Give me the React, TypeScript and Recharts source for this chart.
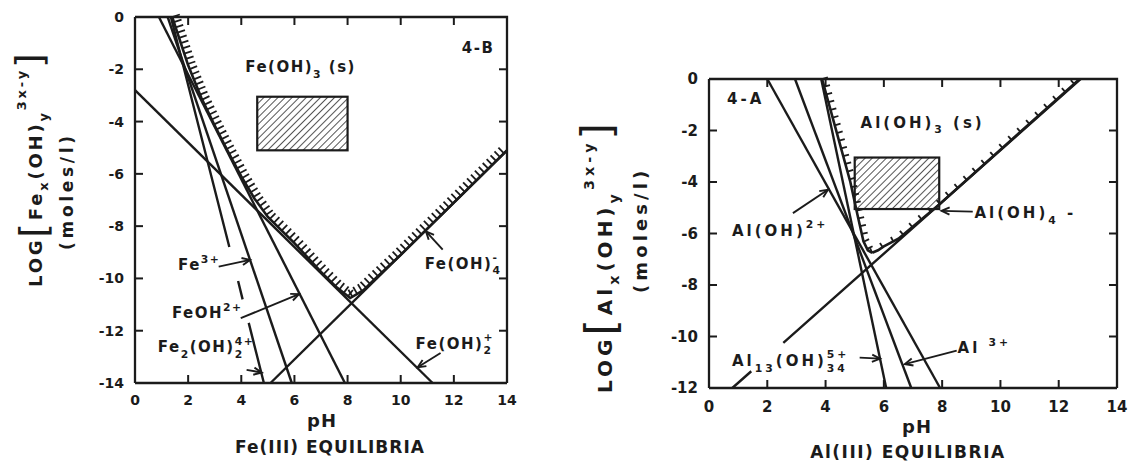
import React from 'react';
import { LineChart, Line, XAxis, YAxis, ReferenceArea, ReferenceLine, ReferenceDot } from 'recharts';

const FONT = '"DejaVu Sans", Verdana, sans-serif';
const INK = '#1b1b1b';
const TICK = 8;

type Pt = { ph: number; v: number | null };
type Part = { t: string; k?: 'sub' | 'sup'; stack?: boolean };
type Note = { ph: number; v: number; parts: Part[] };
type Arrow = { from: [number, number]; to: [number, number] };

// shared pH axis
const phTicks = [0, 2, 4, 6, 8, 10, 12, 14];

// ---------- Fe(III) ----------
const feLogTicks = [0, -2, -4, -6, -8, -10, -12, -14];

const feFe3: Pt[] = [{ ph: 1.23, v: 0 }, { ph: 5.9, v: -14 }];
const feFeOH: Pt[] = [{ ph: 0.9, v: 0 }, { ph: 7.9, v: -14 }];
// broken where the label arrows cross it
const feFe2OH2: Pt[] = [
  { ph: 1.35, v: 0 }, { ph: 3.55, v: -8.8 }, { ph: 3.7, v: null },
  { ph: 3.88, v: -10.1 }, { ph: 4.05, v: -10.8 }, { ph: 4.16, v: null },
  { ph: 4.28, v: -11.7 }, { ph: 4.85, v: -14 },
];
const feFeOH2: Pt[] = [{ ph: 0, v: -2.8 }, { ph: 11.2, v: -14 }];
const feFeOH4: Pt[] = [{ ph: 5.1, v: -14 }, { ph: 14, v: -5.1 }];
const feSolubility: Pt[] = [
  { ph: 1.4, v: 0 }, { ph: 2.0, v: -1.85 }, { ph: 2.5, v: -3.1 }, { ph: 3.0, v: -4.15 },
  { ph: 3.5, v: -5.15 }, { ph: 4.0, v: -6.1 }, { ph: 4.5, v: -6.95 }, { ph: 5.0, v: -7.65 },
  { ph: 6.0, v: -8.65 }, { ph: 7.0, v: -9.75 }, { ph: 7.6, v: -10.35 }, { ph: 8.1, v: -10.75 },
  { ph: 8.6, v: -10.45 }, { ph: 9.0, v: -10.05 }, { ph: 10.0, v: -9.1 }, { ph: 12.0, v: -7.1 },
  { ph: 14.0, v: -5.1 },
];
const feBox = { ph: [4.6, 8.0], v: [-5.1, -3.05] };

const feNotes: Note[] = [
  { ph: 4.15, v: -1.91, parts: [{ t: 'Fe(OH)' }, { t: '3', k: 'sub' }, { t: ' (s)' }] },
  { ph: 12.3, v: -1.15, parts: [{ t: '4-B' }] },
  { ph: 1.62, v: -9.48, parts: [{ t: 'Fe' }, { t: '3+', k: 'sup' }] },
  { ph: 1.39, v: -11.32, parts: [{ t: 'FeOH' }, { t: '2+', k: 'sup' }] },
  {
    ph: 0.86, v: -12.62,
    parts: [{ t: 'Fe' }, { t: '2', k: 'sub' }, { t: '(OH)' }, { t: '2', k: 'sub' }, { t: '4+', k: 'sup', stack: true }],
  },
  { ph: 10.9, v: -9.41, parts: [{ t: 'Fe(OH)' }, { t: '4', k: 'sub' }, { t: '-', k: 'sup', stack: true }] },
  { ph: 10.56, v: -12.47, parts: [{ t: 'Fe(OH)' }, { t: '2', k: 'sub' }, { t: '+', k: 'sup', stack: true }] },
];
const feArrows: Arrow[] = [
  { from: [3.15, -9.55], to: [4.33, -9.29] },
  { from: [3.98, -11.52], to: [6.17, -10.6] },
  { from: [4.2, -13.5], to: [4.77, -13.6] },
  { from: [11.58, -8.9], to: [10.95, -8.2] },
  { from: [11.5, -12.85], to: [10.64, -13.4] },
];

// ---------- Al(III) ----------
const alLogTicks = [0, -2, -4, -6, -8, -10, -12];

const alAl3: Pt[] = [{ ph: 2.95, v: 0 }, { ph: 6.94, v: -12 }];
const alAlOH: Pt[] = [{ ph: 2.0, v: 0 }, { ph: 7.93, v: -12 }];
const alAl13: Pt[] = [{ ph: 3.85, v: 0 }, { ph: 6.08, v: -12 }];
const alAlOH4: Pt[] = [
  { ph: 0.8, v: -12 }, { ph: 1.45, v: -11.35 }, { ph: 2.0, v: null },
  { ph: 2.55, v: -10.25 }, { ph: 12.75, v: 0 },
];
const alSolubilityAcid: Pt[] = [
  { ph: 3.88, v: 0 }, { ph: 4.4, v: -2.15 }, { ph: 4.85, v: -4.0 }, { ph: 5.1, v: -5.3 },
  { ph: 5.3, v: -6.3 }, { ph: 5.45, v: -6.65 }, { ph: 5.6, v: -6.75 },
];
const alSolubilityBase: Pt[] = [
  { ph: 5.6, v: -6.75 }, { ph: 5.8, v: -6.65 }, { ph: 6.0, v: -6.5 }, { ph: 6.5, v: -6.2 },
  { ph: 7.9, v: -4.87 }, { ph: 12.72, v: 0 },
];
const alBox = { ph: [5.0, 7.9], v: [-5.05, -3.05] };

const alNotes: Note[] = [
  { ph: 0.62, v: -0.74, parts: [{ t: '4-A' }] },
  { ph: 5.2, v: -1.67, parts: [{ t: 'Al(OH)' }, { t: '3', k: 'sub' }, { t: ' (s)' }] },
  { ph: 0.79, v: -5.88, parts: [{ t: 'Al(OH)' }, { t: '2+', k: 'sup' }] },
  { ph: 9.11, v: -5.18, parts: [{ t: 'Al(OH)' }, { t: '4', k: 'sub' }, { t: ' -' }] },
  {
    ph: 0.79, v: -10.93,
    parts: [{ t: 'Al' }, { t: '13', k: 'sub' }, { t: '(OH)' }, { t: '34', k: 'sub' }, { t: '5+', k: 'sup', stack: true }],
  },
  { ph: 8.53, v: -10.43, parts: [{ t: 'Al ' }, { t: '3+', k: 'sup' }] },
];
const alArrows: Arrow[] = [
  { from: [2.88, -5.21], to: [4.08, -4.3] },
  { from: [9.05, -5.15], to: [7.98, -5.12] },
  { from: [5.17, -10.82], to: [5.87, -10.86] },
  { from: [8.5, -10.55], to: [6.72, -11.07] },
];

// ---------- drawing helpers ----------
function RichText({ x, y, parts, size, spacing }: { x: number; y: number; parts: Part[]; size: number; spacing: number }) {
  const small = size * 0.72;
  let cur = 0;
  return (
    <text x={x} y={y} fontFamily={FONT} fontWeight={700} fontSize={size} fill={INK} letterSpacing={spacing}>
      {parts.map((p, i) => {
        const off = p.k === 'sub' ? size * 0.38 : p.k === 'sup' ? -size * 0.5 : 0;
        const dy = off - cur;
        cur = off;
        const prev = parts[i - 1];
        const back = p.stack && prev ? prev.t.length * (small * 0.7 + spacing) : 0;
        return (
          <tspan key={i} dy={dy} dx={back ? -back : undefined} fontSize={p.k ? small : size}>
            {p.t}
          </tspan>
        );
      })}
    </text>
  );
}

const noteShape = (parts: Part[], spacing: number) => (p: any) => (
  <RichText x={p.cx} y={p.cy + 5.5} parts={parts} size={15} spacing={spacing} />
);

const arrowShape = (p: any) => {
  const { x1, y1, x2, y2 } = p;
  const a = Math.atan2(y2 - y1, x2 - x1);
  const h = 8;
  const w = 3.6;
  const bx = x2 - h * Math.cos(a);
  const by = y2 - h * Math.sin(a);
  const lx = bx + w * Math.sin(a);
  const ly = by - w * Math.cos(a);
  const rx = bx - w * Math.sin(a);
  const ry = by + w * Math.cos(a);
  return (
    <g>
      <line x1={x1} y1={y1} x2={x2} y2={y2} stroke={INK} strokeWidth={1.9} />
      <path d={`M${lx},${ly} L${x2},${y2} L${rx},${ry}`} fill="none" stroke={INK} strokeWidth={1.9} />
    </g>
  );
};

const boxShape = (id: string) => (p: any) => (
  <g>
    <defs>
      <pattern id={id} patternUnits="userSpaceOnUse" width={5} height={5} patternTransform="rotate(45)">
        <line x1={0} y1={0} x2={0} y2={5} stroke={INK} strokeWidth={1.5} />
      </pattern>
    </defs>
    <rect x={p.x} y={p.y} width={p.width} height={p.height} fill={`url(#${id})`} stroke={INK} strokeWidth={2.2} />
  </g>
);

// hatch marks on the solid side of a solubility boundary, laid along the plotted segments
function hatchDot(gap: number, len: number) {
  return (p: any) => {
    const pts = p.points as { x: number; y: number }[] | undefined;
    const i = p.index as number;
    if (!pts || i >= pts.length - 1) return <g key={`h${i}`} />;
    let start = 0;
    for (let k = 0; k < i; k++) start += Math.hypot(pts[k + 1].x - pts[k].x, pts[k + 1].y - pts[k].y);
    const a = pts[i];
    const b = pts[i + 1];
    const L = Math.hypot(b.x - a.x, b.y - a.y);
    const ux = (b.x - a.x) / L;
    const uy = (b.y - a.y) / L;
    let nx = uy;
    let ny = -ux;
    if (ny > 0) {
      nx = -nx;
      ny = -ny;
    }
    const marks: React.ReactElement[] = [];
    for (let s = Math.ceil(start / gap) * gap - start; s < L; s += gap) {
      const mx = a.x + ux * s;
      const my = a.y + uy * s;
      marks.push(
        <line key={s} x1={mx} y1={my} x2={mx + nx * len} y2={my + ny * len} stroke={INK} strokeWidth={1.8} />
      );
    }
    return <g key={`h${i}`}>{marks}</g>;
  };
}

const tickText = (size: number) => ({ fontFamily: FONT, fontWeight: 700, fontSize: size, fill: INK });

const bottomTick = (gap: number, size: number) => (p: any) => {
  const val = p.payload.value;
  return (
    <g>
      {val > 0 && val < 14 && <line x1={p.x} y1={p.y} x2={p.x} y2={p.y - TICK} stroke={INK} strokeWidth={2} />}
      <text x={p.x} y={p.y + gap} textAnchor="middle" {...tickText(size)}>{val}</text>
    </g>
  );
};
const leftTick = (lo: number, size: number) => (p: any) => {
  const val = p.payload.value;
  return (
    <g>
      {val < 0 && val > lo && <line x1={p.x} y1={p.y} x2={p.x + TICK} y2={p.y} stroke={INK} strokeWidth={2} />}
      <text x={p.x - 11} y={p.y + 5} textAnchor="end" {...tickText(size)}>{val}</text>
    </g>
  );
};

const axisLine = { stroke: INK, strokeWidth: 2.3 };

type PanelProps = {
  width: number;
  height: number;
  margin: { top: number; right: number; bottom: number; left: number };
  yAxisWidth: number;
  xAxisHeight: number;
  labelGap: number;
  tickSize: number;
  noteSpacing: number;
  yTicks: number[];
  species: Pt[][];
  boundaries: { data: Pt[]; gap: number; len: number }[];
  box: { ph: number[]; v: number[] };
  boxId: string;
  notes: Note[];
  arrows: Arrow[];
};

// top and right edges of the plot frame with their inward ticks, laid over the chart
function FrameEdges({ props, lo }: { props: PanelProps; lo: number }) {
  const left = props.margin.left + props.yAxisWidth;
  const top = props.margin.top;
  const right = props.width - props.margin.right;
  const bottom = props.height - props.margin.bottom - props.xAxisHeight;
  const px = (t: number) => left + (t / 14) * (right - left);
  const py = (t: number) => top + (t / lo) * (bottom - top);
  return (
    <svg
      width={props.width} height={props.height}
      style={{ position: 'absolute', left: 0, top: 0, pointerEvents: 'none' }}
    >
      <path d={`M${left},${top} H${right} V${bottom}`} fill="none" stroke={INK} strokeWidth={2.3} />
      {phTicks.filter((t) => t > 0 && t < 14).map((t) => (
        <line key={`x${t}`} x1={px(t)} y1={top} x2={px(t)} y2={top + TICK} stroke={INK} strokeWidth={2} />
      ))}
      {props.yTicks.filter((t) => t < 0 && t > lo).map((t) => (
        <line key={`y${t}`} x1={right} y1={py(t)} x2={right - TICK} y2={py(t)} stroke={INK} strokeWidth={2} />
      ))}
    </svg>
  );
}

function Panel(props: PanelProps) {
  const lo = props.yTicks[props.yTicks.length - 1];
  return (
    <div style={{ position: 'relative', width: props.width, height: props.height }}>
      <LineChart width={props.width} height={props.height} margin={props.margin}>
        <XAxis
          dataKey="ph" type="number" domain={[0, 14]} ticks={phTicks} interval={0}
          height={props.xAxisHeight} tickSize={0} tickMargin={0} tickLine={false}
          axisLine={axisLine} tick={bottomTick(props.labelGap, props.tickSize)}
        />
        <YAxis
          type="number" domain={[lo, 0]} ticks={props.yTicks} interval={0} width={props.yAxisWidth}
          tickSize={0} tickMargin={0} tickLine={false} axisLine={axisLine} tick={leftTick(lo, props.tickSize)}
        />
        <ReferenceArea
          x1={props.box.ph[0]} x2={props.box.ph[1]} y1={props.box.v[0]} y2={props.box.v[1]}
          ifOverflow="visible" shape={boxShape(props.boxId)}
        />
        {props.species.map((d, i) => (
          <Line
            key={`s${i}`} data={d} dataKey="v" type="linear" stroke={INK} strokeWidth={2.4}
            dot={false} activeDot={false} isAnimationActive={false}
          />
        ))}
        {props.boundaries.map((b, i) => (
          <Line
            key={`b${i}`} data={b.data} dataKey="v" type="linear" stroke={INK} strokeWidth={2.6}
            dot={hatchDot(b.gap, b.len)} activeDot={false} isAnimationActive={false}
          />
        ))}
        {props.arrows.map((a, i) => (
          <ReferenceLine
            key={`a${i}`} ifOverflow="visible"
            segment={[{ x: a.from[0], y: a.from[1] }, { x: a.to[0], y: a.to[1] }]}
            shape={arrowShape}
          />
        ))}
        {props.notes.map((n, i) => (
          <ReferenceDot
            key={`n${i}`} x={n.ph} y={n.v} r={0} ifOverflow="visible"
            shape={noteShape(n.parts, props.noteSpacing)}
          />
        ))}
      </LineChart>
      <FrameEdges props={props} lo={lo} />
    </div>
  );
}

function SideTitle(
  { x, y, x2, y2, size, spacing, size2, spacing2, metal }:
  { x: number; y: number; x2: number; y2: number; size: number; spacing: number; size2: number; spacing2: number; metal: string }
) {
  const s = size * 0.72;
  return (
    <g fontFamily={FONT} fontWeight={700} fill={INK}>
      <text transform={`translate(${x},${y}) rotate(-90)`} fontSize={size} letterSpacing={spacing}>
        LOG
        <tspan fontSize={size * 2.1} fontWeight={400} dy={size * 0.2}>[</tspan>
        <tspan dy={-size * 0.2}>{metal}</tspan>
        <tspan fontSize={s} dy={size * 0.35}>x</tspan>
        <tspan dy={-size * 0.35}>(OH)</tspan>
        <tspan fontSize={s} dy={size * 0.35}>y</tspan>
        <tspan fontSize={s} dy={-size * 1.25}>3x-y</tspan>
        <tspan fontSize={size * 2.1} fontWeight={400} dy={size * 0.9}>]</tspan>
      </text>
      <text transform={`translate(${x2},${y2}) rotate(-90)`} fontSize={size2} letterSpacing={spacing2}>
        (moles/l)
      </text>
    </g>
  );
}

export default function App() {
  return (
    <div style={{ position: 'absolute', left: 0, top: 0, width: 1131, height: 464, background: '#fff', overflow: 'hidden' }}>
      <div style={{ position: 'absolute', left: 0, top: 0 }}>
        <Panel
          width={525} height={464} margin={{ top: 17, right: 18, bottom: 0, left: 0 }}
          yAxisWidth={135} xAxisHeight={81} labelGap={22} tickSize={14} noteSpacing={1.5} yTicks={feLogTicks}
          species={[feFeOH4, feFe3, feFeOH, feFe2OH2, feFeOH2]}
          boundaries={[{ data: feSolubility, gap: 5.5, len: 8 }]}
          box={feBox} boxId="hatchFe" notes={feNotes} arrows={feArrows}
        />
      </div>
      <div style={{ position: 'absolute', left: 570, top: 0 }}>
        <Panel
          width={561} height={464} margin={{ top: 79, right: 14, bottom: 0, left: 0 }}
          yAxisWidth={139} xAxisHeight={76} labelGap={24} tickSize={15} noteSpacing={3} yTicks={alLogTicks}
          species={[alAlOH4, alAl3, alAlOH, alAl13]}
          boundaries={[
            { data: alSolubilityAcid, gap: 8, len: 6 },
            { data: alSolubilityBase, gap: 12, len: 5 },
          ]}
          box={alBox} boxId="hatchAl" notes={alNotes} arrows={alArrows}
        />
      </div>
      <svg width={1131} height={464} style={{ position: 'absolute', left: 0, top: 0, pointerEvents: 'none' }}>
        <SideTitle x={42} y={287} x2={73} y2={250} size={18} spacing={2.8} size2={17} spacing2={3.7} metal="Fe" />
        <SideTitle x={612} y={393} x2={647} y2={293} size={20} spacing={4} size2={18} spacing2={4.1} metal="Al" />
        <g fontFamily={FONT} fontWeight={700} fill={INK} textAnchor="middle">
          <text x={322} y={427} fontSize={18} letterSpacing={1}>pH</text>
          <text x={330} y={453} fontSize={17} letterSpacing={1}>Fe(III) EQUILIBRIA</text>
          <text x={917} y={433} fontSize={18} letterSpacing={1}>pH</text>
          <text x={908} y={458} fontSize={17} letterSpacing={1.5}>Al(III) EQUILIBRIA</text>
        </g>
      </svg>
    </div>
  );
}
